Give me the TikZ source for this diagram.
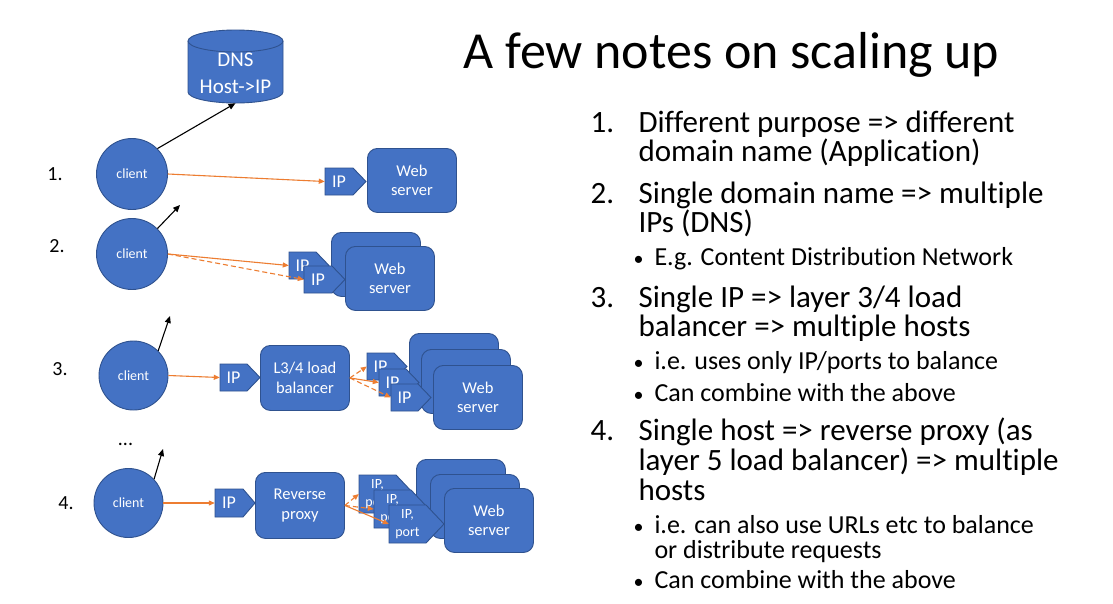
\documentclass[tikz,border=0pt]{standalone}
\usepackage{fontspec}
\setmainfont{Carlito}[Ligatures={TeX,NoCommon}]
\usetikzlibrary{arrows.meta}

\definecolor{boxfill}{HTML}{4472C4}
\definecolor{boxline}{HTML}{2F528F}
\definecolor{flow}{HTML}{ED7D31}

% font size and baseline skip given in px (1pt = 1px here)
\newcommand\pxfont[2]{\fontsize{#1}{#2}\selectfont}

\tikzset{
  hostbox/.style={draw=boxline, fill=boxfill, line width=0.9pt, rounded corners=10pt,
    minimum width=89pt, minimum height=64pt, anchor=north west, inner sep=0pt,
    text=white, align=center, font=\pxfont{16.5}{19.5}},
  client/.style={circle, draw=boxline, fill=boxfill, line width=0.9pt,
    minimum size=#1pt, inner sep=0pt, text=white, font=\pxfont{14}{16}},
  signpath/.style={draw=boxline, fill=boxfill, line width=0.9pt, line join=miter},
  signtext/.style={inner sep=0pt, text=white, align=center, font=\pxfont{18}{20}},
  query/.style={-{Triangle[length=7pt,width=6pt]}, line width=1.1pt, black},
  flowline/.style={-{Triangle[length=6pt,width=5pt]}, line width=1.1pt, flow},
  flowdash/.style={flowline, dash pattern=on 5pt off 3pt},
  stepno/.style={font=\pxfont{20}{22}},
  heading/.style={anchor=base west, font=\pxfont{52}{60}},
  point/.style={anchor=base west, font=\pxfont{31}{36}},
  subpoint/.style={anchor=base west, font=\pxfont{26}{30}},
  dot/.style={anchor=base west, font=\pxfont{20}{22}},
}

% IP tag: [text style]{name}{left x}{top y}{flat width}{height}{tip depth}{text}
\newcommand\ipsign[8][]{%
  \filldraw[signpath] (#3,#4) -- ({#3+#5},#4) -- ({#3+#5+#7},{#4+#6/2})
    -- ({#3+#5},{#4+#6}) -- (#3,{#4+#6}) -- cycle;
  \node[signtext, minimum width=#5pt, minimum height=#6pt, #1] (#2)
    at ({#3+#5/2},{#4+#6/2}) {#8};
}

\begin{document}
\begin{tikzpicture}[x=1pt, y=-1pt]
\useasboundingbox (0,0) rectangle (1113,603);
\fill[white] (0,0) rectangle (1113,603);

% ---------- DNS store ----------
\filldraw[signpath] (188,41) -- (188,92)
  .. controls (188,98.1) and (209.3,103) .. (235.5,103)
  .. controls (261.7,103) and (283,98.1) .. (283,92) -- (283,41)
  .. controls (283,34.9) and (261.7,30) .. (235.5,30)
  .. controls (209.3,30) and (188,34.9) .. (188,41) -- cycle;
\draw[draw=boxline, line width=0.9pt] (188,41)
  .. controls (188,47.1) and (209.3,52) .. (235.5,52)
  .. controls (261.7,52) and (283,47.1) .. (283,41);
\node[signtext, font=\pxfont{21}{26.5}, minimum height=59pt] (dns) at (235.5,73.5) {DNS\\Host->IP};

% ---------- clients and step numbers ----------
\node[client=71] (c1) at (132,174) {client};
\node[client=71] (c2) at (132,254) {client};
\node[client=69] (c3) at (133.5,375.5) {client};
\node[client=69] (c4) at (128.5,503) {client};

\node[stepno] (n1) at (55,174) {1.};
\node[stepno] (n2) at (57,246) {2.};
\node[stepno] (n3) at (60,369) {3.};
\node[stepno] (n4) at (66,503) {4.};
\node[stepno, anchor=base] (more) at (125.5,445) {...};

\coordinate (q2) at (180,205);
\coordinate (q3) at (170,316);
\coordinate (q4) at (163,449);

% ---------- 1. one host ----------
\node[hostbox] (ws1) at (367,148) {Web\\server};
\ipsign{ip1}{325}{168}{28}{27}{13}{IP}

% ---------- 2. several IPs ----------
\node[hostbox] (ws2a) at (331,232) {Web\\server};
\node[hostbox] (ws2b) at (345,246) {Web\\server};
\ipsign{ip2a}{289}{252}{27}{27}{13}{IP}
\ipsign{ip2b}{304}{266}{28}{27}{13}{IP}

% ---------- 3. L3/4 load balancer ----------
\ipsign{ip3}{220}{364}{27}{27}{13}{IP}
\node[hostbox, minimum height=65pt] (lb) at (260,345) {L3/4 load\\balancer};
\node[hostbox] (ws3a) at (409,333) {Web\\server};
\node[hostbox] (ws3b) at (421,349) {Web\\server};
\node[hostbox] (ws3c) at (433,365) {Web\\server};
\ipsign{ip3a}{367}{353}{27}{27}{13}{IP}
\ipsign{ip3b}{379}{369}{27}{27}{13}{IP}
\ipsign{ip3c}{391}{384}{27}{27}{13}{IP}

% ---------- 4. reverse proxy ----------
\ipsign{ip4}{215}{489}{28}{28}{12}{IP}
\node[hostbox, minimum height=66pt] (rp) at (255,472) {Reverse\\proxy};
\node[hostbox] (ws4a) at (416,459) {Web\\server};
\node[hostbox] (ws4b) at (430,474) {Web\\server};
\node[hostbox] (ws4c) at (444,488) {Web\\server};
\ipsign[font=\pxfont{14}{18}]{ip4a}{359}{475}{37}{38}{18}{IP,\\port}
\ipsign[font=\pxfont{14}{18}]{ip4b}{374}{490}{37}{38}{18}{IP,\\port}
\ipsign[font=\pxfont{14}{18}]{ip4c}{389}{505}{37}{38}{18}{IP,\\port}

% ---------- connectors ----------
\draw[query] (c1.45) -- (dns.south);
\draw[query] (c2.45) -- (q2);
\draw[query] (c3.45) -- (q3);
\draw[query] (c4.43) -- (q4);

\draw[flowline] (c1.east) -- (ip1.west);
\draw[flowline] (c2.east) -- (ip2a.west);
\draw[flowdash] (c2.east) -- (ip2b.west);
\draw[flowline] (c3.east) -- (ip3.west);
\draw[flowdash] (lb.east) -- (ip3a.west);
\draw[flowline] (lb.east) -- (ip3b.west);
\draw[flowdash] (lb.east) -- (ip3c.west);
\draw[flowline] (c4.east) -- (ip4.west);
\draw[flowdash] (rp.east) -- (ip4a.west);
\draw[flowdash] (rp.east) -- (ip4b.west);
\draw[flowline] (rp.east) -- (ip4c.west);

% ---------- notes ----------
\node[heading] (title) at (460,68) {A few notes on scaling up};

\node[point] (k1) at (587,132) {1.};
\node[point] (t1a) at (635,132) {Different purpose => different};
\node[point] (t1b) at (635,161) {domain name (Application)};

\node[point] (k2) at (587,203) {2.};
\node[point] (t2a) at (635,203) {Single domain name => multiple};
\node[point] (t2b) at (635,232) {IPs (DNS)};
\node[dot] (b2) at (630,265) {•};
\node[subpoint] (s2) at (651,265) {E.g. Content Distribution Network};

\node[point] (k3) at (587,307) {3.};
\node[point] (t3a) at (635,307) {Single IP => layer 3/4 load};
\node[point] (t3b) at (635,336) {balancer => multiple hosts};
\node[dot] (b3a) at (630,369) {•};
\node[subpoint] (s3a) at (651,369) {i.e. uses only IP/ports to balance};
\node[dot] (b3b) at (630,401) {•};
\node[subpoint] (s3b) at (651,401) {Can combine with the above};

\node[point] (k4) at (587,440) {4.};
\node[point] (t4a) at (635,440) {Single host => reverse proxy (as};
\node[point] (t4b) at (635,470) {layer 5 load balancer) => multiple};
\node[point] (t4c) at (635,500) {hosts};
\node[dot] (b4a) at (630,533) {•};
\node[subpoint] (s4a) at (651,533) {i.e. can also use URLs etc to balance};
\node[subpoint] (s4b) at (651,558) {or distribute requests};
\node[dot] (b4b) at (630,588) {•};
\node[subpoint] (s4c) at (651,588) {Can combine with the above};
\end{tikzpicture}
\end{document}
